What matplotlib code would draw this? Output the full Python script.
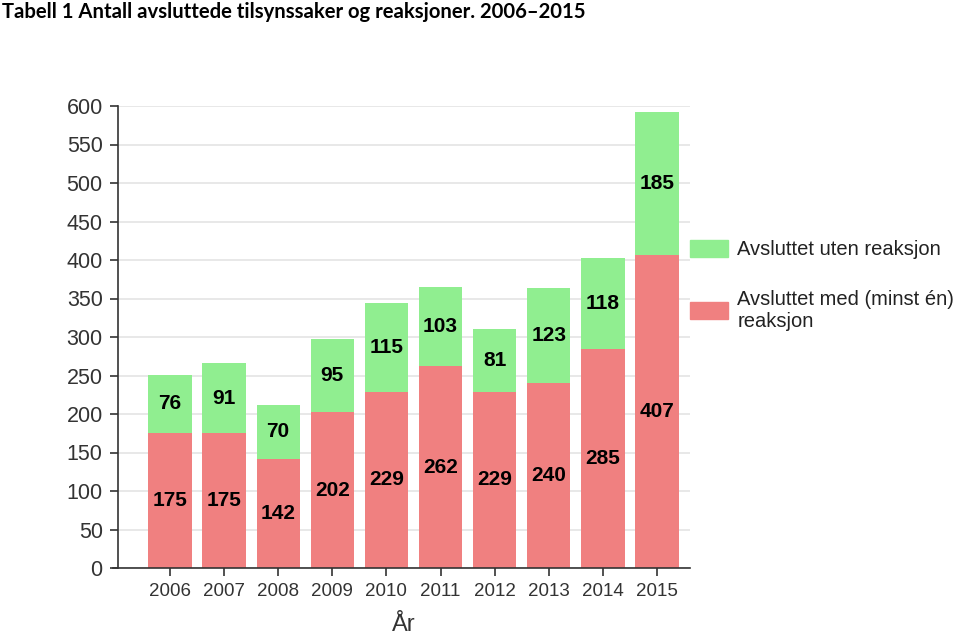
import matplotlib
matplotlib.use("Agg")
import matplotlib.pyplot as plt
import matplotlib.patches as mpatches

years = ["2006", "2007", "2008", "2009", "2010", "2011", "2012", "2013", "2014", "2015"]
med_reaksjon = [175, 175, 142, 202, 229, 262, 229, 240, 285, 407]
uten_reaksjon = [76, 91, 70, 95, 115, 103, 81, 123, 118, 185]

green = "#90EE90"
red = "#F08080"
tickc = "#333333"

fig = plt.figure(figsize=(9.6, 6.42), dpi=100)
ax = fig.add_axes([118/960, 1-568/642, (690-118)/960, (568-106)/642])

x = list(range(len(years)))
ax.bar(x, med_reaksjon, width=0.8, color=red, zorder=2)
ax.bar(x, uten_reaksjon, width=0.8, bottom=med_reaksjon, color=green, zorder=2)

for xi, r, g in zip(x, med_reaksjon, uten_reaksjon):
    ax.text(xi, r/2, str(r), ha="center", va="center", fontsize=15, fontweight="bold",
            family="Liberation Sans", color="black", zorder=3)
    ax.text(xi, r + g/2, str(g), ha="center", va="center", fontsize=15, fontweight="bold",
            family="Liberation Sans", color="black", zorder=3)

ax.set_xlim(-0.96, 9.61)
ax.set_ylim(0, 600)
ax.set_yticks(range(0, 601, 50))
ax.set_xticks(x)
ax.set_xticklabels(years)
ax.yaxis.grid(True, color="#e4e4e4", linewidth=1.2, zorder=0)
ax.set_axisbelow(True)
for s in ["top", "right"]:
    ax.spines[s].set_visible(False)
for s in ["left", "bottom"]:
    ax.spines[s].set_color("#333333")
    ax.spines[s].set_linewidth(1.2)
ax.spines["bottom"].set_bounds(-1.05, 9.61)
ax.tick_params(axis="both", colors=tickc, length=6, width=1.2, direction="out")
ax.tick_params(axis="y", labelsize=15.5, pad=5)
ax.tick_params(axis="x", labelsize=13.5, pad=5)
for lab in ax.get_xticklabels() + ax.get_yticklabels():
    lab.set_family("Liberation Sans")
    lab.set_color(tickc)
ax.set_xlabel("År", fontsize=17, family="Liberation Sans", color=tickc, labelpad=10)

handles = [mpatches.Patch(color=green, label="Avsluttet uten reaksjon"),
           mpatches.Patch(color=red, label="Avsluttet med (minst én)\nreaksjon")]
leg = fig.legend(handles=handles, loc="upper left", bbox_to_anchor=(690/960, 1-240/642),
                 frameon=False, prop={"family": "Liberation Sans", "size": 14.5},
                 handlelength=1.9, handleheight=0.9, labelspacing=1.5, handletextpad=0.45,
                 borderaxespad=0, borderpad=0)
for t in leg.get_texts():
    t.set_color("#222222")

fig.text(2/960, 1-12/642, "Tabell 1 Antall avsluttede tilsynssaker og reaksjoner. 2006–2015",
         ha="left", va="center", fontsize=14.6, fontweight="bold", family="Lato",
         color="black")

fig.savefig("out.png", dpi=100)
